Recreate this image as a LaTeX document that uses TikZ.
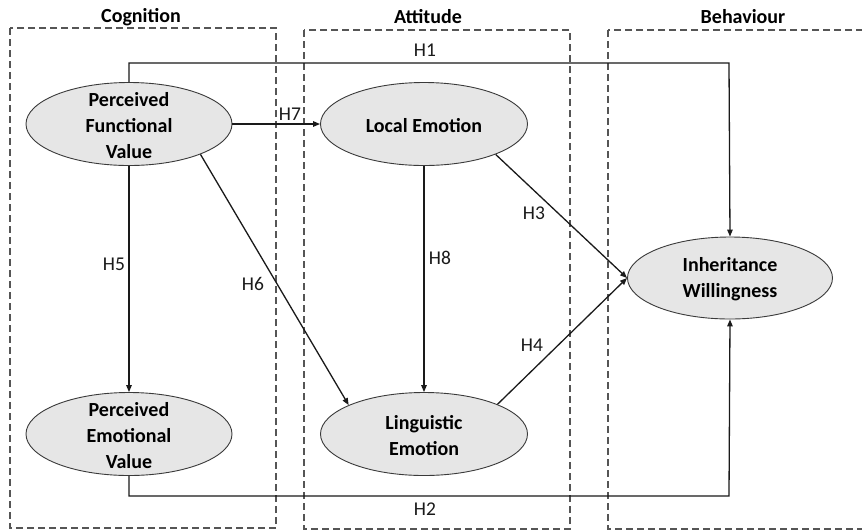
\documentclass[tikz,border=0pt]{standalone}
\usepackage{fontspec}
\setmainfont{Carlito}
\usetikzlibrary{shapes.geometric,arrows.meta}
\definecolor{boxgray}{HTML}{555555}
\definecolor{ellfill}{HTML}{E6E6E6}
\definecolor{ellline}{HTML}{3A3A3A}
\definecolor{arrcol}{HTML}{1A1A1A}
\tikzset{
  groupbox/.style={draw=boxgray,line width=1.1pt,dash pattern=on 7pt off 4pt},
  grouptitle/.style={font=\fontsize{20}{24}\selectfont\bfseries,inner sep=0pt},
  construct/.style={ellipse,draw=ellline,fill=ellfill,line width=0.9pt,inner sep=0pt},
  ctext/.style={align=center,font=\fontsize{20}{26}\selectfont\bfseries,inner sep=0pt},
  hyp/.style={draw=arrcol,line width=1.3pt,-{Triangle[length=7pt,width=5.5pt]}},
  hlabel/.style={font=\fontsize{19.5}{22}\selectfont,inner sep=0pt,text=arrcol}
}
\begin{document}
\begin{tikzpicture}[x=1pt,y=-1pt]
\useasboundingbox (0,0) rectangle (862,531);
\clip (0,0) rectangle (862,531);
\fill[white] (0,0) rectangle (862,531);
% group boxes
\draw[groupbox] (10,28) rectangle (276,528);
\draw[groupbox] (304,30) rectangle (570,529);
\draw[groupbox] (608,30) rectangle (880,529);
\node[grouptitle] (tcog) at (141,17) {Cognition};
\node[grouptitle] (tatt) at (428,17) {Attitude};
\node[grouptitle] (tbeh) at (743,17) {Behaviour};
% constructs
\node[construct,minimum width=206pt,minimum height=83pt] (pfv) at (129,124) {};
\node[ctext] (pfvt) at (129,126) {Perceived\\Functional\\Value};
\node[construct,minimum width=207pt,minimum height=83pt] (le) at (424,124) {};
\node[ctext] (let) at (424,126) {Local Emotion};
\node[construct,minimum width=206pt,minimum height=83pt] (pev) at (129,434) {};
\node[ctext] (pevt) at (129,436) {Perceived\\Emotional\\Value};
\node[construct,minimum width=207pt,minimum height=83pt] (linge) at (424,434) {};
\node[ctext] (lingt) at (424,436) {Linguistic\\Emotion};
\node[construct,minimum width=205pt,minimum height=82pt] (iw) at (730,278) {};
\node[ctext] (iwt) at (730,279) {Inheritance\\Willingness};
% hypotheses
\coordinate (h1a) at (129,63);
\coordinate (h1b) at (729,63);
\draw[hyp] (pfv.north) -- (h1a) -- (h1b) -- (iw.north);
\draw[hyp] (pfv.east) -- (le.west);
\draw[hyp] (pfv.south) -- (pev.north);
\draw[hyp] (pfv.-23) -- (linge.159);
\draw[hyp] (le.south) -- (linge.north);
\draw[hyp] (le.-23) -- (iw.west);
\draw[hyp] (linge.22) -- (iw.west);
\coordinate (h2a) at (129,496);
\coordinate (h2b) at (729,496);
\draw[hyp] (pev.south) -- (h2a) -- (h2b) -- (iw.south);
% labels
\node[hlabel] (lh1) at (425,50) {H1};
\node[hlabel] (lh7) at (290,114) {H7};
\node[hlabel] (lh5) at (114,264) {H5};
\node[hlabel] (lh6) at (253,284) {H6};
\node[hlabel] (lh8) at (440,258) {H8};
\node[hlabel] (lh3) at (534,213) {H3};
\node[hlabel] (lh4) at (532,345) {H4};
\node[hlabel] (lh2) at (425,509) {H2};
\end{tikzpicture}
\end{document}
